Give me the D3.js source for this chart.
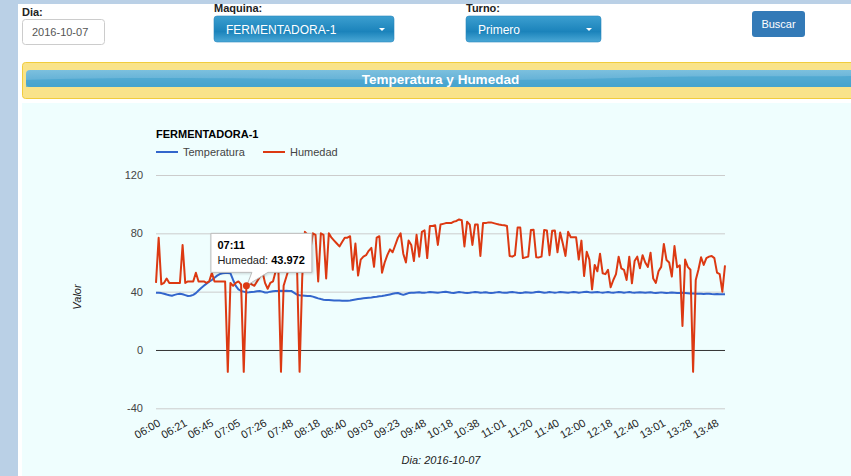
<!DOCTYPE html>
<html>
<head>
<meta charset="utf-8">
<script src="https://cdn.jsdelivr.net/npm/d3@7"></script>
<style>
    html, body { margin: 0; padding: 0; background: #fff; overflow: hidden; }
    svg { display: block; font-family: "Liberation Sans", Arial, sans-serif; }
</style>
</head>
<body>
<svg id="page" width="851" height="476"></svg>
<script>
// datos
const tickLabels = ["06:00", "06:21", "06:45", "07:05", "07:26", "07:48", "08:18", "08:40", "09:03", "09:23", "09:48",
    "10:18", "10:38", "11:01", "11:20", "11:40", "12:00", "12:18", "12:40", "13:01", "13:28", "13:48"];
const tickEvery = 10;
const yTicks = [-40, 0, 40, 80, 120];

const humedad = [
    46, 77, 45, 46, 49, 46, 46, 46, 46, 46,
    72, 46, 47, 47, 47, 53, 47, 47, 47, 46,
    47, 53, 47, 47, 47, 47, 47, -15, 46, 44,
    46, 47, 45, -15, 43.972, 46, 45, 44, 47, 50,
    54, 46, 42, 46, 47, 54, 57, -15, 44, 50,
    56, 58, 60, 60, -15, 50, 81, 79, 68, 80,
    79, 47, 80, 79, 49, 80, 77, 75, 73, 71,
    74, 77, 77, 78, 55, 73, 51, 62, 64, 65,
    68, 70, 57, 77, 78, 53, 60, 65, 69, 67,
    72, 77, 80, 66, 60, 75, 72, 61, 79, 64,
    81, 82, 63, 85, 85, 85.5, 72, 86, 86.5, 87,
    87, 87, 88, 88.5, 89.5, 89, 71, 88, 86, 72,
    86, 86, 64.5, 87, 87, 87.5, 87.5, 87, 86.5, 86,
    85.7, 85.5, 85, 64.5, 64, 65, 84, 84, 63, 63.5,
    64, 82.3, 82.5, 63.6, 63.5, 64, 82.3, 82, 65, 81.8,
    82, 67, 80.5, 73, 64.5, 81, 77.3, 77.3, 77.3, 62,
    75, 50.7, 67.4, 62, 41.6, 58.3, 54, 66, 52.6, 52,
    55, 43, 48, 52, 64, 56, 55, 48, 64, 45.7,
    61, 64, 56, 65, 60, 57, 66.7, 49, 46, 54,
    57, 72.7, 61.7, 60, 50.3, 71.3, 56.7, 58, 16.5, 62,
    57, 55, -15, 48, 55, 63.6, 58.3, 63, 64, 64.5,
    63, 53, 52, 40, 58
];

const temperatura = [
    39.3, 39.2, 39, 38.6, 38, 37.6, 37.2, 37.8, 38.3, 38.5,
    38.2, 37.6, 37, 37.2, 37.8, 39, 40.8, 42.5, 44, 45.5,
    46.8, 48, 49.5, 51, 52, 52.6, 52.8, 52.8, 52.6, 48,
    44, 41.5, 40.5, 40, 39.5, 39.6, 39.8, 40, 40.3, 40.5,
    40, 39.4, 39.5, 40, 40.3, 40.5, 40.5, 40.6, 40.5, 40.6,
    40.5, 40.4, 39.2, 38, 37.6, 37.4, 37.2, 37, 37, 36.6,
    36, 35.4, 34.9, 34.5, 34.3, 34.2, 34.1, 34, 34, 33.9,
    33.8, 33.8, 33.8, 34, 34.3, 34.6, 34.9, 35.2, 35.4, 35.6,
    35.8, 36, 36.3, 36.5, 36.8, 37, 37.3, 37.7, 38.1, 38.5,
    38.9, 39.1, 38.4, 37.8, 38.4, 39, 39.3, 39.2, 39.4, 39.6,
    39.2, 39.3, 39.5, 39.8, 39.6, 39.4, 39.2, 39.5, 39.7, 39.9,
    39.6, 39.3, 39.1, 39.4, 39.7, 39.5, 39.2, 39, 39.2, 39.5,
    39.8, 39.6, 39.3, 39.4, 39.6, 39.3, 39.1, 39.2, 39.5, 39.7,
    39.4, 39.2, 39.3, 39.6, 39.8, 39.5, 39.2, 39.1, 39.3, 39.6,
    39.4, 39.2, 39.4, 39.7, 39.9, 39.6, 39.3, 39.4, 39.7, 39.5,
    39.3, 39.5, 39.8, 39.6, 39.4, 39.2, 39.5, 39.8, 39.6, 39.3,
    39.5, 39.7, 39.9, 39.6, 39.4, 39.6, 39.8, 39.5, 39.3, 39.5,
    39.7, 39.4, 39.2, 39.5, 39.8, 39.6, 39.3, 39.5, 39.7, 39.4,
    39.3, 39.5, 39.6, 39.4, 39.2, 39.4, 39.6, 39.3, 39.1, 39.3,
    39.5, 39.3, 39.1, 39.2, 39.4, 39.2, 39, 39.1, 39.3, 39.1,
    38.9, 38.7, 38.8, 38.6, 38.5, 38.6, 38.4, 38.5, 38.6, 38.4,
    38.3, 38.4, 38.3, 38.2, 38.2
];

const tooltipIndex = 34;
const tooltipTime = "07:11";

const svg = d3.select("#page");

// ---- marco de la pagina
svg.append("rect").attr("x", 0).attr("y", 0).attr("width", 851).attr("height", 476).attr("fill", "#fff");
svg.append("rect").attr("x", 0).attr("y", 0).attr("width", 851).attr("height", 4).attr("fill", "#bad0e6");
svg.append("rect").attr("x", 0).attr("y", 0).attr("width", 18).attr("height", 476).attr("fill", "#bad0e6");

const defs = svg.append("defs");
const gBtn = defs.append("linearGradient").attr("id", "gradBtn").attr("x1", 0).attr("y1", 0).attr("x2", 0).attr("y2", 1);
gBtn.append("stop").attr("offset", "0%").attr("stop-color", "#3c9fd0");
gBtn.append("stop").attr("offset", "60%").attr("stop-color", "#1b83bb");
gBtn.append("stop").attr("offset", "100%").attr("stop-color", "#4aa8d6");
const gBar = defs.append("linearGradient").attr("id", "gradBar").attr("x1", 0).attr("y1", 0).attr("x2", 0).attr("y2", 1);
gBar.append("stop").attr("offset", "0%").attr("stop-color", "#7cc0de");
gBar.append("stop").attr("offset", "50%").attr("stop-color", "#68b4d8");
gBar.append("stop").attr("offset", "100%").attr("stop-color", "#44a2cc");

// ---- cabecera con filtros
const header = svg.append("g");
header.append("text").attr("x", 22).attr("y", 16).attr("font-size", 11).attr("font-weight", "bold").attr("fill", "#222").text("Dia:");
header.append("rect").attr("x", 22.5).attr("y", 19.5).attr("width", 82).attr("height", 25).attr("rx", 3)
    .attr("fill", "#fff").attr("stroke", "#ccc");
header.append("text").attr("x", 32).attr("y", 36).attr("font-size", 11).attr("fill", "#555").text("2016-10-07");

function dropdown(x, w, label, value) {
    header.append("text").attr("x", x).attr("y", 12).attr("font-size", 11).attr("font-weight", "bold").attr("fill", "#222").text(label);
    header.append("rect").attr("x", x).attr("y", 16).attr("width", w).attr("height", 26).attr("rx", 3)
        .attr("fill", "url(#gradBtn)").attr("stroke", "#2a86bd").attr("stroke-width", 0.6);
    header.append("text").attr("x", x + 12).attr("y", 33.5).attr("font-size", 12).attr("fill", "#fff").text(value);
    header.append("path").attr("d", `M${x + w - 15},28 l6,0 l-3,3 z`).attr("fill", "#fff");
}
dropdown(214, 180, "Maquina:", "FERMENTADORA-1");
dropdown(466, 135, "Turno:", "Primero");

header.append("rect").attr("x", 752).attr("y", 11).attr("width", 53).attr("height", 26).attr("rx", 3).attr("fill", "#337ab7");
header.append("text").attr("x", 778.5).attr("y", 28).attr("text-anchor", "middle").attr("font-size", 11).attr("fill", "#fff").text("Buscar");

// ---- panel amarillo con titulo
svg.append("rect").attr("x", 22.5).attr("y", 62.5).attr("width", 860).attr("height", 36).attr("rx", 3)
    .attr("fill", "#f9e38a").attr("stroke", "#f1cc3c");
svg.append("rect").attr("x", 26).attr("y", 70).attr("width", 860).attr("height", 17).attr("rx", 4).attr("fill", "url(#gradBar)");
svg.append("path").attr("d", "M26,80 C200,74 420,84 620,78 C720,75 800,77 851,76 L851,87 L26,87 Z")
    .attr("fill", "#46a4ce").attr("opacity", 0.7);
svg.append("text").attr("x", 440.5).attr("y", 83.5).attr("text-anchor", "middle").attr("font-size", 13.5)
    .attr("font-weight", "bold").attr("fill", "#fff").text("Temperatura y Humedad");

// ---- area del grafico
svg.append("rect").attr("x", 22).attr("y", 103).attr("width", 829).attr("height", 373).attr("fill", "#effefe");

const x = d3.scaleLinear().domain([0, humedad.length - 1]).range([156, 725]);
const y = d3.scaleLinear().domain([-40, 120]).range([408.3, 175]);

const chart = svg.append("g");

// eje y + lineas de cuadricula (guion normal como en el original)
const yAxis = chart.append("g").attr("transform", "translate(156,0)")
    .call(d3.axisLeft(y).tickValues(yTicks).tickSize(-569).tickPadding(13).tickFormat(d => String(d)));
yAxis.select(".domain").remove();
yAxis.selectAll(".tick line").attr("stroke", d => d === 0 ? "#333" : "#ccc").attr("stroke-width", 1);
yAxis.selectAll(".tick text").attr("font-size", 11).attr("fill", "#444").attr("font-family", "Liberation Sans, Arial, sans-serif");

// eje x (categorias, una etiqueta cada 10 puntos)
const xTickIdx = tickLabels.map((t, i) => i * tickEvery);
const xAxis = chart.append("g").attr("transform", "translate(0,419)")
    .call(d3.axisBottom(x).tickValues(xTickIdx).tickSize(0).tickFormat(i => tickLabels[i / tickEvery]));
xAxis.select(".domain").remove();
xAxis.selectAll(".tick text")
    .attr("font-size", 11).attr("fill", "#222").attr("font-family", "Liberation Sans, Arial, sans-serif")
    .attr("text-anchor", "end").attr("dy", "0.7em").attr("y", 0).attr("x", 1)
    .attr("transform", "rotate(-30)");

// series
const line = d3.line().x((d, i) => x(i)).y(d => y(d));
chart.append("path").datum(temperatura).attr("d", line)
    .attr("fill", "none").attr("stroke", "#3366cc").attr("stroke-width", 2).attr("stroke-linejoin", "round");
chart.append("path").datum(humedad).attr("d", line)
    .attr("fill", "none").attr("stroke", "#dc3912").attr("stroke-width", 2).attr("stroke-linejoin", "round");

// titulo y leyenda
chart.append("text").attr("x", 156).attr("y", 138).attr("font-size", 11).attr("font-weight", "bold").attr("fill", "#000").text("FERMENTADORA-1");
const legend = [{name: "Temperatura", color: "#3366cc", x: 156}, {name: "Humedad", color: "#dc3912", x: 263}];
legend.forEach(l => {
    chart.append("line").attr("x1", l.x).attr("x2", l.x + 22).attr("y1", 152).attr("y2", 152)
        .attr("stroke", l.color).attr("stroke-width", 2);
    chart.append("text").attr("x", l.x + 27).attr("y", 156).attr("font-size", 11).attr("fill", "#444").text(l.name);
});

// titulos de ejes
chart.append("text").attr("transform", "translate(81,297) rotate(-90)").attr("text-anchor", "middle")
    .attr("font-size", 11).attr("font-style", "italic").attr("fill", "#222").text("Valor");
chart.append("text").attr("x", 441).attr("y", 464).attr("text-anchor", "middle")
    .attr("font-size", 11).attr("font-style", "italic").attr("fill", "#222").text("Dia: 2016-10-07");

// tooltip
const px = x(tooltipIndex), py = y(humedad[tooltipIndex]);
const tip = chart.append("g").attr("transform", `translate(${px - 36},${py - 53})`);
tip.append("path").attr("d", "M0.5,0.5 h101 v39 h-44 l-21,13 l5,-13 h-41 z")
    .attr("fill", "#fff").attr("stroke", "#bbb").attr("stroke-width", 1)
    .style("filter", "drop-shadow(1px 1px 1px rgba(0,0,0,0.15))");
tip.append("text").attr("x", 7).attr("y", 16).attr("font-size", 11).attr("font-weight", "bold").attr("fill", "#000").text(tooltipTime);
const t2 = tip.append("text").attr("x", 7).attr("y", 31).attr("font-size", 11).attr("fill", "#222");
t2.append("tspan").text("Humedad: ");
t2.append("tspan").attr("font-weight", "bold").attr("fill", "#000").text(humedad[tooltipIndex]);
chart.append("circle").attr("cx", px).attr("cy", py).attr("r", 3.5).attr("fill", "#dc3912");
</script>
</body>
</html>
